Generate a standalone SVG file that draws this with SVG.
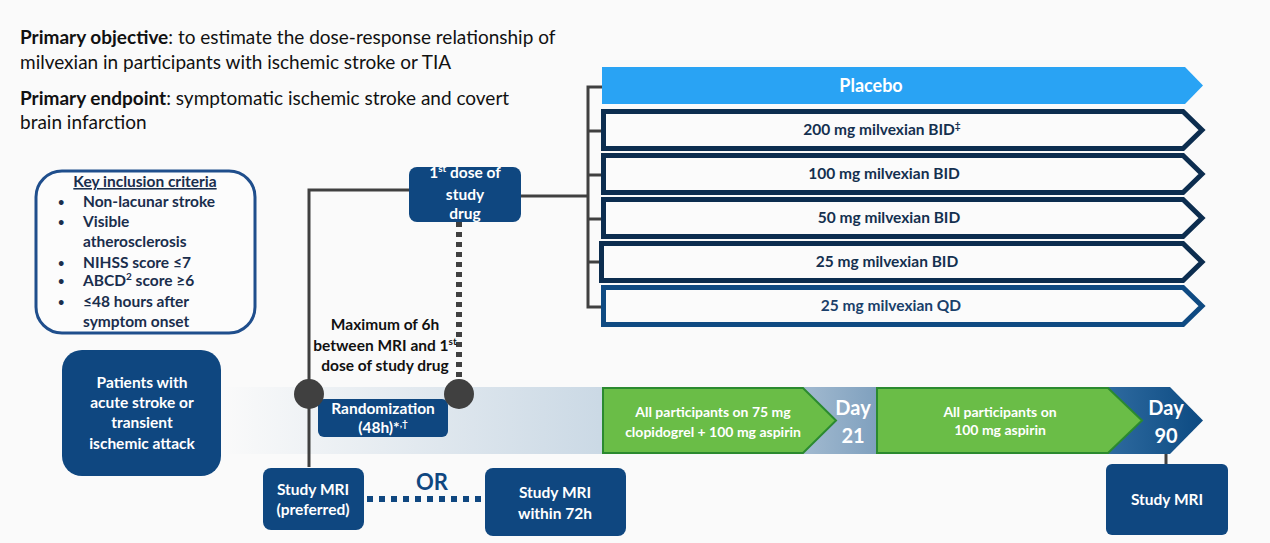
<svg xmlns="http://www.w3.org/2000/svg" width="1270" height="543" viewBox="0 0 1270 543">
<defs>
<linearGradient id="band" x1="222" y1="0" x2="1203" y2="0" gradientUnits="userSpaceOnUse">
<stop offset="0" stop-color="#fafafa"/>
<stop offset="0.385" stop-color="#cbd9e5"/>
<stop offset="0.592" stop-color="#a2bad0"/>
<stop offset="0.668" stop-color="#7fa0be"/>
<stop offset="0.904" stop-color="#2e6a9f"/>
<stop offset="1" stop-color="#0c4a82"/>
</linearGradient>
<style>
text{font-family:Lato,"Open Sans","Liberation Sans",sans-serif}
.b{font-weight:700}
.w{fill:#fff}
.c{text-anchor:middle}
.nav{fill:#0f4780}
.ln{stroke:#404040;stroke-width:3;fill:none}
.dose{fill:#fbfbfb;stroke:#0c2d4f;stroke-width:5}
.dt{font-size:15.5px;fill:#14304f;font-weight:700;text-anchor:middle}
.grn{fill:#6abd47;stroke:#2b8a2f;stroke-width:2}
.crit{font-size:15.5px;font-weight:700;fill:#1a2e4d}
.bul{font-size:11px;font-weight:700;fill:#1a2e4d}
.blk{font-size:15.5px;font-weight:700;fill:#111;text-anchor:middle}
.wt{font-size:15.5px;font-weight:700;fill:#fff;text-anchor:middle}
.gt{font-size:14px;font-weight:700;fill:#fff;text-anchor:middle}
.day{font-size:20px;font-weight:700;fill:#fff;text-anchor:middle}
.top{font-size:19px;fill:#111}
</style>
</defs>
<rect width="1270" height="543" fill="#fafafa"/>

<g id="objectives">
<text class="top" x="20" y="44"><tspan class="b">Primary objective</tspan>: to estimate the dose-response relationship of</text>
<text class="top" x="20" y="69">milvexian in participants with ischemic stroke or TIA</text>
<text class="top" x="20" y="105"><tspan class="b">Primary endpoint</tspan>: symptomatic ischemic stroke and covert</text>
<text class="top" x="20" y="129">brain infarction</text>
</g>

<g id="timeline-band">
<path d="M222 387 H1170 L1203 420.5 L1170 454 H222 Z" fill="url(#band)"/>
</g>

<g id="connectors">
<path class="ln" d="M410 190 H309 V467"/>
<path class="ln" d="M521 196 H588"/>
<path class="ln" d="M602 87 H588 V307 H602 M588 131 H602 M588 175 H602 M588 219 H602 M588 262 H602"/>
<path d="M459 222 V382" stroke="#404040" stroke-width="6" stroke-dasharray="5 5" fill="none"/>
<path d="M367 499 H482" stroke="#0f4780" stroke-width="6" stroke-dasharray="6 6" fill="none"/>
<path class="ln" d="M1166 454 V464"/>
</g>

<g id="inclusion-criteria">
<rect x="36" y="171" width="219" height="162" rx="26" fill="#fcfcfc" stroke="#1f4e8c" stroke-width="3"/>
<text class="crit c" x="145" y="187" text-decoration="underline">Key inclusion criteria</text>
<text class="bul" x="58" y="206">•</text>
<text class="crit" x="83" y="207">Non-lacunar stroke</text>
<text class="bul" x="58" y="226">•</text>
<text class="crit" x="83" y="227">Visible</text>
<text class="crit" x="83" y="247">atherosclerosis</text>
<text class="bul" x="58" y="267">•</text>
<text class="crit" x="83" y="268">NIHSS score ≤7</text>
<text class="bul" x="58" y="285">•</text>
<text class="crit" x="83" y="286">ABCD<tspan font-size="10" dy="-6">2</tspan><tspan dy="6"> score ≥6</tspan></text>
<text class="bul" x="58" y="306">•</text>
<text class="crit" x="83" y="307">≤48 hours after</text>
<text class="crit" x="83" y="327">symptom onset</text>
</g>

<g id="patients">
<rect x="62" y="350" width="159" height="126" rx="20" class="nav"/>
<text class="wt" x="142" y="388">Patients with</text>
<text class="wt" x="142" y="408">acute stroke or</text>
<text class="wt" x="142" y="428">transient</text>
<text class="wt" x="142" y="449">ischemic attack</text>
</g>

<g id="first-dose">
<rect x="409" y="167" width="112" height="55" rx="8" class="nav"/>
<text class="wt" x="465" y="178">1<tspan font-size="10" dy="-6">st</tspan><tspan dy="6"> dose of</tspan></text>
<text class="wt" x="465" y="200">study</text>
<text class="wt" x="465" y="219">drug</text>
</g>

<g id="max-6h">
<text class="blk" x="385" y="330">Maximum of 6h</text>
<text class="blk" x="385" y="351">between MRI and 1<tspan font-size="10" dy="-6">st</tspan></text>
<text class="blk" x="385" y="371">dose of study drug</text>
</g>

<g id="randomization">
<rect x="318" y="399" width="130" height="38" rx="6" class="nav"/>
<text class="wt" x="383" y="414">Randomization</text>
<text class="wt" x="383" y="433">(48h)*<tspan font-size="10" dy="-6">,†</tspan></text>
</g>

<g id="circles">
<circle cx="309" cy="394" r="15" fill="#404040"/>
<circle cx="459" cy="394" r="15" fill="#404040"/>
</g>

<g id="arm-placebo">
<path d="M602 67 H1185 L1203 85.5 L1185 104 H602 Z" fill="#29a3f4"/>
<text class="c b" x="871" y="92" font-size="18" fill="#fff">Placebo</text>
</g>
<g id="arm-200">
<path class="dose" d="M603.5 111.5 H1183 L1202 130 L1183 148.5 H603.5 Z"/>
<text class="dt" x="882" y="135">200 mg milvexian BID<tspan font-size="10" dy="-6">‡</tspan></text>
</g>
<g id="arm-100">
<path class="dose" d="M603.5 155.5 H1183 L1202 174 L1183 192.5 H603.5 Z"/>
<text class="dt" x="884" y="179">100 mg milvexian BID</text>
</g>
<g id="arm-50">
<path class="dose" d="M603.5 199.5 H1183 L1202 218 L1183 236.5 H603.5 Z"/>
<text class="dt" x="889" y="223">50 mg milvexian BID</text>
</g>
<g id="arm-25bid">
<path class="dose" d="M601.5 243.5 H1183 L1202 262 L1183 280.5 H601.5 Z"/>
<text class="dt" x="887" y="267">25 mg milvexian BID</text>
</g>
<g id="arm-25qd">
<path class="dose" d="M603.5 287.5 H1183 L1202 306 L1183 324.5 H603.5 Z" style="stroke:#0f4a82"/>
<text class="dt" x="891" y="311" style="fill:#1a3f6a">25 mg milvexian QD</text>
</g>

<g id="phase1">
<path class="grn" d="M603 388 H803 L836 420.5 L803 453 H603 Z"/>
<text class="gt" x="713" y="417">All participants on 75 mg</text>
<text class="gt" x="713" y="437">clopidogrel + 100 mg aspirin</text>
</g>
<g id="day21">
<text class="day" x="853" y="415">Day</text>
<text class="day" x="853" y="443">21</text>
</g>
<g id="phase2">
<path class="grn" d="M877 388 H1108 L1142 420.5 L1108 453 H877 Z"/>
<text class="gt" x="1000" y="417">All participants on</text>
<text class="gt" x="1000" y="435">100 mg aspirin</text>
</g>
<g id="day90">
<text class="day" x="1166" y="415">Day</text>
<text class="day" x="1166" y="443">90</text>
</g>

<g id="mri-preferred">
<rect x="263" y="468" width="101" height="62" rx="8" class="nav"/>
<text class="wt" x="313" y="495">Study MRI</text>
<text class="wt" x="313" y="515">(preferred)</text>
</g>
<g id="or-label">
<text class="c b" x="432" y="490" font-size="22" fill="#0f4780">OR</text>
</g>
<g id="mri-72h">
<rect x="485" y="468" width="141" height="68" rx="8" class="nav"/>
<text class="wt" x="555" y="498">Study MRI</text>
<text class="wt" x="555" y="519">within 72h</text>
</g>
<g id="mri-day90">
<rect x="1106" y="464" width="122" height="71" rx="6" class="nav"/>
<text class="wt" x="1167" y="505">Study MRI</text>
</g>
</svg>
